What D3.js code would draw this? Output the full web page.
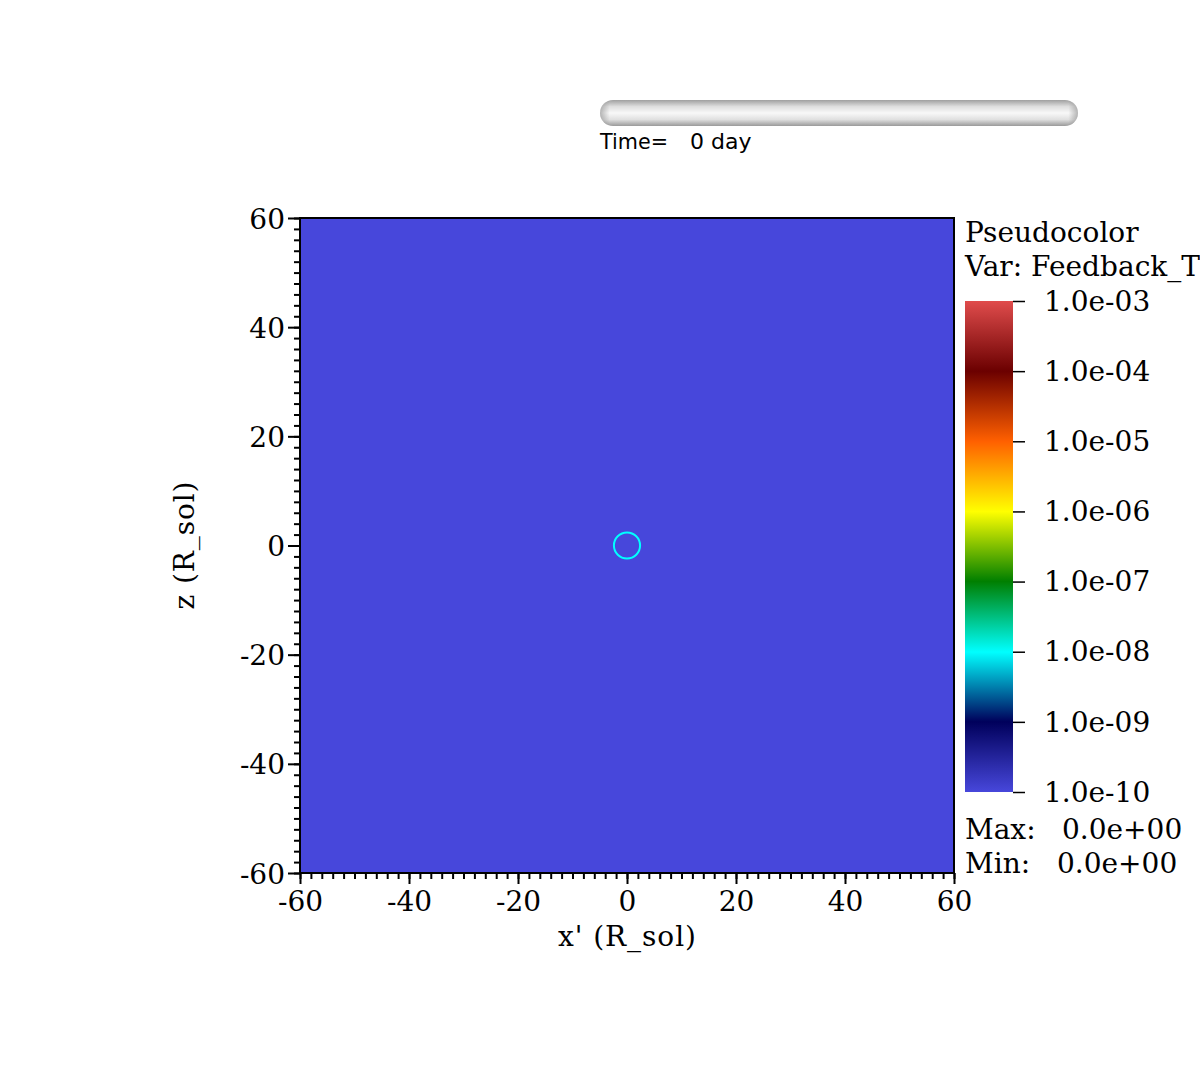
<!DOCTYPE html>
<html>
<head>
<meta charset="utf-8">
<script src="https://cdn.jsdelivr.net/npm/d3@7"></script>
<style>
  html, body { margin: 0; padding: 0; background: #fff; }
  svg { display: block; }
</style>
</head>
<body>
<svg id="chart" width="1200" height="1092"></svg>
<script>
// ---- data ----
const xTicks = [-60, -40, -20, 0, 20, 40, 60];
const yTicks = [-60, -40, -20, 0, 20, 40, 60];
const fieldValue = 1e-10;                 // uniform field (clamped to min of colour range)
const circles = [{ x: 0, z: 0, r: 2.4 }]; // marker circle in R_sol
const cbTicks = [1e-3, 1e-4, 1e-5, 1e-6, 1e-7, 1e-8, 1e-9, 1e-10];
const cbStopPos = [0, 0.143, 0.285, 0.429, 0.571, 0.714, 0.857, 1];
const cbStopColors = ["#4747db", "#00005b", "#00ffff", "#007f00", "#ffff00", "#ff6000", "#6b0000", "#e04c4c"];
const timeLabel = "Time=";
const timeValue = "0 day";
const maxValue = "0.0e+00";
const minValue = "0.0e+00";

// ---- layout ----
const svg = d3.select("#chart");
const plot = { left: 300, right: 954, top: 218, bottom: 873 };
const x = d3.scaleLinear().domain([-60, 60]).range([plot.left, plot.right]);
const y = d3.scaleLinear().domain([-60, 60]).range([plot.bottom, plot.top]);
const serif = "'DejaVu Serif', serif";
const fs = 28;

const cmap = d3.scaleLinear().domain(cbStopPos).range(cbStopColors).clamp(true);
const cbScale = d3.scaleLog().domain([1e-10, 1e-3]).range([792, 301]);
const cbNorm = d3.scaleLog().domain([1e-10, 1e-3]).range([0, 1]).clamp(true);

// ---- time slider ----
const defs = svg.append("defs");
const sg = defs.append("linearGradient").attr("id", "slider").attr("x1", 0).attr("y1", 0).attr("x2", 0).attr("y2", 1);
[[0, "#a0a0a0"], [0.25, "#dedede"], [0.5, "#f8f8f8"], [0.75, "#e0e0e0"], [1, "#9a9a9a"]]
  .forEach(([o, c]) => sg.append("stop").attr("offset", o).attr("stop-color", c));
const sgh = defs.append("linearGradient").attr("id", "sliderEdge").attr("x1", 0).attr("y1", 0).attr("x2", 1).attr("y2", 0);
[[0, "#888", 0.6], [0.02, "#888", 0], [0.98, "#888", 0], [1, "#888", 0.6]]
  .forEach(([o, c, a]) => sgh.append("stop").attr("offset", o).attr("stop-color", c).attr("stop-opacity", a));
svg.append("rect").attr("x", 600).attr("y", 100).attr("width", 478).attr("height", 26)
  .attr("rx", 13).attr("ry", 13).attr("fill", "url(#slider)");
svg.append("rect").attr("x", 600).attr("y", 100).attr("width", 478).attr("height", 26)
  .attr("rx", 13).attr("ry", 13).attr("fill", "url(#sliderEdge)");
const tt = svg.append("text").attr("x", 600).attr("y", 149)
  .attr("font-family", "'DejaVu Sans', sans-serif").attr("font-size", 22).attr("fill", "#000");
tt.append("tspan").attr("textLength", 68).attr("lengthAdjust", "spacingAndGlyphs").text(timeLabel);
tt.append("tspan").attr("x", 690).text(timeValue);

// ---- field ----
svg.append("rect").attr("x", plot.left).attr("y", plot.top)
  .attr("width", plot.right - plot.left).attr("height", plot.bottom - plot.top)
  .attr("fill", cmap(cbNorm(fieldValue)));

svg.selectAll("circle.mark").data(circles).enter().append("circle")
  .attr("class", "mark")
  .attr("cx", d => x(d.x)).attr("cy", d => y(d.z))
  .attr("r", d => x(d.r) - x(0))
  .attr("fill", "none").attr("stroke", "#00ffff").attr("stroke-width", 2);

// frame
svg.append("rect").attr("x", plot.left).attr("y", plot.top)
  .attr("width", plot.right - plot.left).attr("height", plot.bottom - plot.top)
  .attr("fill", "none").attr("stroke", "#000").attr("stroke-width", 2);

// ---- axes ----
function styleAxis(g) {
  g.select(".domain").remove();
  g.selectAll(".tick line").attr("stroke", "#000").attr("stroke-width", 2);
  g.selectAll(".tick text").attr("font-family", serif).attr("font-size", fs).attr("fill", "#000");
}
const minor = d3.range(-60, 61, 2);
const intFmt = d => String(d);

svg.append("g").attr("transform", `translate(0,${plot.bottom})`)
  .call(d3.axisBottom(x).tickValues(minor).tickSize(6).tickFormat(""))
  .call(styleAxis);
svg.append("g").attr("transform", `translate(0,${plot.bottom})`)
  .call(d3.axisBottom(x).tickValues(xTicks).tickSize(11).tickPadding(6).tickFormat(intFmt))
  .call(styleAxis)
  .call(g => g.selectAll(".tick text").attr("dy", "0.75em"));

svg.append("g").attr("transform", `translate(${plot.left},0)`)
  .call(d3.axisLeft(y).tickValues(minor).tickSize(6).tickFormat(""))
  .call(styleAxis);
svg.append("g").attr("transform", `translate(${plot.left},0)`)
  .call(d3.axisLeft(y).tickValues(yTicks).tickSize(12).tickPadding(3).tickFormat(intFmt))
  .call(styleAxis)
  .call(g => g.selectAll(".tick text").attr("dy", "0.36em").attr("textLength", null));

svg.append("text").attr("x", x(0)).attr("y", 946).attr("text-anchor", "middle")
  .attr("font-family", serif).attr("font-size", fs).attr("textLength", 138)
  .attr("lengthAdjust", "spacing").text("x' (R_sol)");
svg.append("text").attr("transform", `translate(194,${y(0)}) rotate(-90)`).attr("text-anchor", "middle")
  .attr("font-family", serif).attr("font-size", fs).attr("textLength", 128)
  .attr("lengthAdjust", "spacing").text("z (R_sol)");

// ---- legend ----
svg.append("text").attr("x", 965).attr("y", 242).attr("font-family", serif).attr("font-size", fs).text("Pseudocolor");
svg.append("text").attr("x", 965).attr("y", 276).attr("font-family", serif).attr("font-size", fs).text("Var: Feedback_T");

const cg = defs.append("linearGradient").attr("id", "cbar").attr("x1", 0).attr("y1", 1).attr("x2", 0).attr("y2", 0);
cbStopPos.forEach((p, i) => cg.append("stop").attr("offset", p).attr("stop-color", cbStopColors[i]));
svg.append("rect").attr("x", 965).attr("y", cbScale(1e-3)).attr("width", 48)
  .attr("height", cbScale(1e-10) - cbScale(1e-3)).attr("fill", "url(#cbar)");

svg.append("g").attr("transform", "translate(1013,0)")
  .call(d3.axisRight(cbScale).tickValues(cbTicks).tickSize(12).tickPadding(19)
    .tickFormat(d => d3.format(".1e")(d).replace(/e-(\d)$/, "e-0$1")))
  .call(styleAxis)
  .call(g => g.selectAll(".tick line").attr("stroke-width", 1.5))
  .call(g => g.selectAll(".tick text").attr("dy", "0.33em"));

svg.append("text").attr("x", 965).attr("y", 839).attr("font-family", serif).attr("font-size", fs).text("Max:");
svg.append("text").attr("x", 1062).attr("y", 839).attr("font-family", serif).attr("font-size", fs).text(maxValue);
svg.append("text").attr("x", 965).attr("y", 873).attr("font-family", serif).attr("font-size", fs).text("Min:");
svg.append("text").attr("x", 1057).attr("y", 873).attr("font-family", serif).attr("font-size", fs).text(minValue);
</script>
</body>
</html>
